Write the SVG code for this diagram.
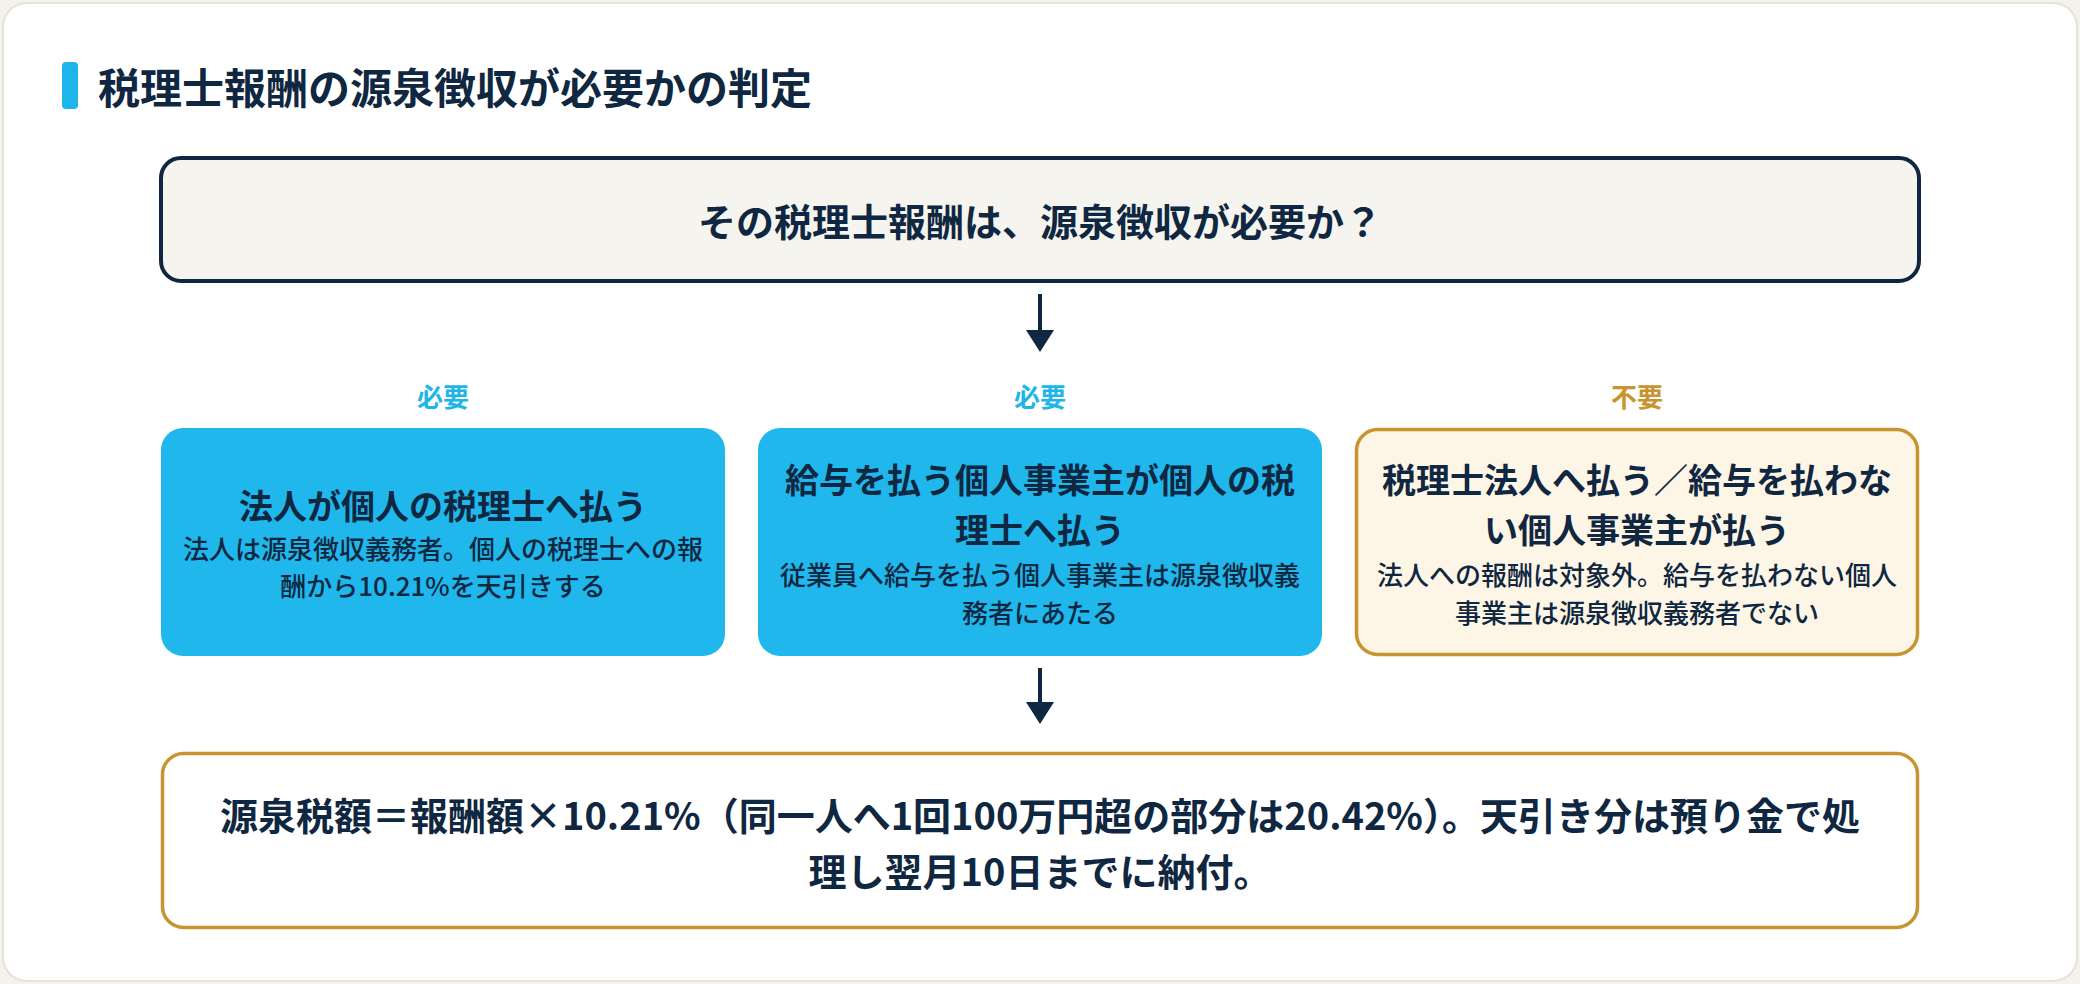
<svg xmlns="http://www.w3.org/2000/svg" width="2080" height="984" viewBox="0 0 2080 984">
<defs>
<style>
.t{font-family:"Noto Sans CJK JP","Noto Sans",sans-serif;fill:#0f2740;text-anchor:middle}
.b{font-weight:700}
.r{font-weight:500}
.ln{stroke:#0f2740;stroke-width:4;fill:none}
.ah{fill:#0f2740}
</style>
</defs>
<rect x="0" y="0" width="2080" height="984" fill="#f4f2ea"/>
<rect x="3" y="3" width="2074" height="978" rx="24" fill="#ffffff" stroke="#e6e2d4" stroke-width="2"/>
<g id="title">
<rect x="62" y="62" width="16" height="47" rx="4" fill="#1eb6ea"/>
<text class="t b" x="98" y="104" font-size="42" style="text-anchor:start">税理士報酬の源泉徴収が必要かの判定</text>
</g>
<g id="question">
<rect x="161" y="158" width="1758" height="123" rx="20" fill="#f5f4ef" stroke="#0f2740" stroke-width="4"/>
<text class="t b" x="1040" y="236" font-size="38">その税理士報酬は、源泉徴収が必要か？</text>
</g>
<g id="connectors">
<line class="ln" x1="1040" y1="294" x2="1040" y2="332"/>
<polygon class="ah" points="1026,330 1054,330 1040,352"/>
<line class="ln" x1="1040" y1="668" x2="1040" y2="704"/>
<polygon class="ah" points="1026,702 1054,702 1040,724"/>
</g>
<g id="label1"><text class="t b" x="443" y="407" font-size="26" style="fill:#1eb6ea">必要</text></g>
<g id="label2"><text class="t b" x="1040" y="407" font-size="26" style="fill:#1eb6ea">必要</text></g>
<g id="label3"><text class="t b" x="1637" y="407" font-size="26" style="fill:#c8942f">不要</text></g>
<g id="case1">
<rect x="161" y="428" width="564" height="228" rx="22" fill="#1fb7ec"/>
<text class="t b" x="443" y="519" font-size="34">法人が個人の税理士へ払う</text>
<text class="t r" x="443" y="559" font-size="26">法人は源泉徴収義務者。個人の税理士への報</text>
<text class="t r" x="443" y="596" font-size="26">酬から10.21%を天引きする</text>
</g>
<g id="case2">
<rect x="758" y="428" width="564" height="228" rx="22" fill="#1fb7ec"/>
<text class="t b" x="1040" y="493" font-size="34">給与を払う個人事業主が個人の税</text>
<text class="t b" x="1040" y="543" font-size="34">理士へ払う</text>
<text class="t r" x="1040" y="585" font-size="26">従業員へ給与を払う個人事業主は源泉徴収義</text>
<text class="t r" x="1040" y="623" font-size="26">務者にあたる</text>
</g>
<g id="case3">
<rect x="1356.5" y="429.5" width="561" height="225" rx="21" fill="#fdf5e5" stroke="#c8942f" stroke-width="3.5"/>
<text class="t b" x="1637" y="493" font-size="34">税理士法人へ払う／給与を払わな</text>
<text class="t b" x="1637" y="543" font-size="34">い個人事業主が払う</text>
<text class="t r" x="1637" y="585" font-size="26">法人への報酬は対象外。給与を払わない個人</text>
<text class="t r" x="1637" y="623" font-size="26">事業主は源泉徴収義務者でない</text>
</g>
<g id="result">
<rect x="162.5" y="753.5" width="1755" height="174" rx="21" fill="#ffffff" stroke="#c8942f" stroke-width="3.5"/>
<text class="t b" x="1040" y="830" font-size="38">源泉税額＝報酬額×10.21%（同一人へ1回100万円超の部分は20.42%）。天引き分は預り金で処</text>
<text class="t b" x="1040" y="886" font-size="38">理し翌月10日までに納付。</text>
</g>
</svg>
